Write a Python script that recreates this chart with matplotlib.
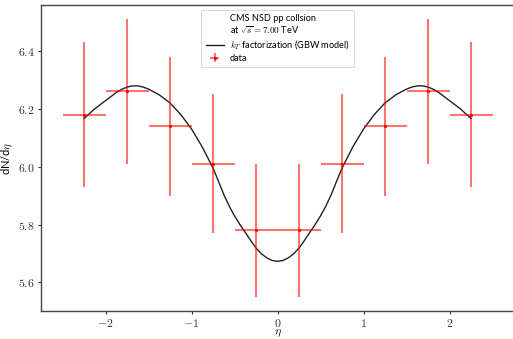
import matplotlib
matplotlib.use("Agg")
import matplotlib.pyplot as plt
from matplotlib.ticker import FuncFormatter

plt.rcParams['mathtext.fontset'] = 'cm'
plt.rcParams['font.family'] = ['Lato', 'DejaVu Sans']

# data: CMS NSD pp 7 TeV
eta_bins = [-2.25, -1.75, -1.25, -0.75, -0.25, 0.25, 0.75, 1.25, 1.75, 2.25]
dndeta = [6.18, 6.26, 6.14, 6.01, 5.78, 5.78, 6.01, 6.14, 6.26, 6.18]
dndeta_err = [0.25, 0.25, 0.24, 0.24, 0.23, 0.23, 0.24, 0.24, 0.25, 0.25]
bin_halfwidth = [0.25] * 10

# kT factorization curve
curve_eta = [-2.25, -2.125, -2.0, -1.875, -1.8125, -1.75, -1.6875, -1.625, -1.5625,
             -1.5, -1.375, -1.25, -1.125, -1.0, -0.875, -0.75, -0.6875, -0.625,
             -0.5625, -0.5, -0.4375, -0.375, -0.3125, -0.25, -0.1875, -0.125,
             -0.0625, 0.0,
             0.0625, 0.125, 0.1875, 0.25, 0.3125, 0.375, 0.4375, 0.5, 0.5625,
             0.625, 0.6875, 0.75,
             0.875, 1.0, 1.125, 1.25, 1.375, 1.5, 1.5625, 1.625, 1.6875,
             1.75, 1.8125, 1.875, 2.0, 2.125, 2.25]
curve_val = [6.166, 6.200, 6.228, 6.256, 6.267, 6.275, 6.279, 6.279, 6.275,
             6.268, 6.248, 6.220, 6.180, 6.130, 6.068, 5.995, 5.950, 5.904,
             5.864, 5.830, 5.800, 5.773, 5.745, 5.719, 5.699, 5.685,
             5.676, 5.673,
             5.676, 5.685, 5.699, 5.719, 5.745, 5.773, 5.800, 5.830, 5.864,
             5.904, 5.950, 5.995,
             6.068, 6.130, 6.180, 6.220, 6.248, 6.268, 6.275, 6.279, 6.279,
             6.275, 6.267, 6.256, 6.228, 6.200, 6.166]

fig = plt.figure(figsize=(5.13, 3.39), dpi=100)
ax = fig.add_axes([0.080, 0.083, 0.922, 0.902])

ax.plot([], [], ' ', label='CMS NSD pp collsion\nat $\\sqrt{s}=7.00$ TeV')
ax.plot(curve_eta, curve_val, color='#222222', lw=1.0,
        label='$k_T$ factorization (GBW model)')
ax.errorbar(eta_bins, dndeta, xerr=bin_halfwidth, yerr=dndeta_err, fmt='.',
            color='red', ms=2.5, ecolor=(1, 0, 0, 0.55), elinewidth=1.5,
            label='data')

ax.xaxis.set_major_formatter(FuncFormatter(lambda v, p: '$%d$' % round(v)))
ax.yaxis.set_major_formatter(FuncFormatter(lambda v, p: '$%.1f$' % v))
ax.tick_params(labelsize=8.5, length=2.5, width=0.8, colors='#333333', pad=2)
for s in ax.spines.values():
    s.set_color('#444444')
    s.set_linewidth(1.0)

ax.set_xlabel('$\\eta$', fontsize=8.5, labelpad=-1)
ax.set_ylabel('dN/d$\\eta$', fontsize=8, labelpad=2)

leg = ax.legend(loc='upper center', fontsize=6.6, handlelength=2.0,
                handletextpad=0.6, borderpad=0.5, labelspacing=0.25,
                framealpha=0.9, bbox_to_anchor=(0.5, 1.0))
leg.get_frame().set_linewidth(0.6)

fig.savefig('out.png', dpi=100)
